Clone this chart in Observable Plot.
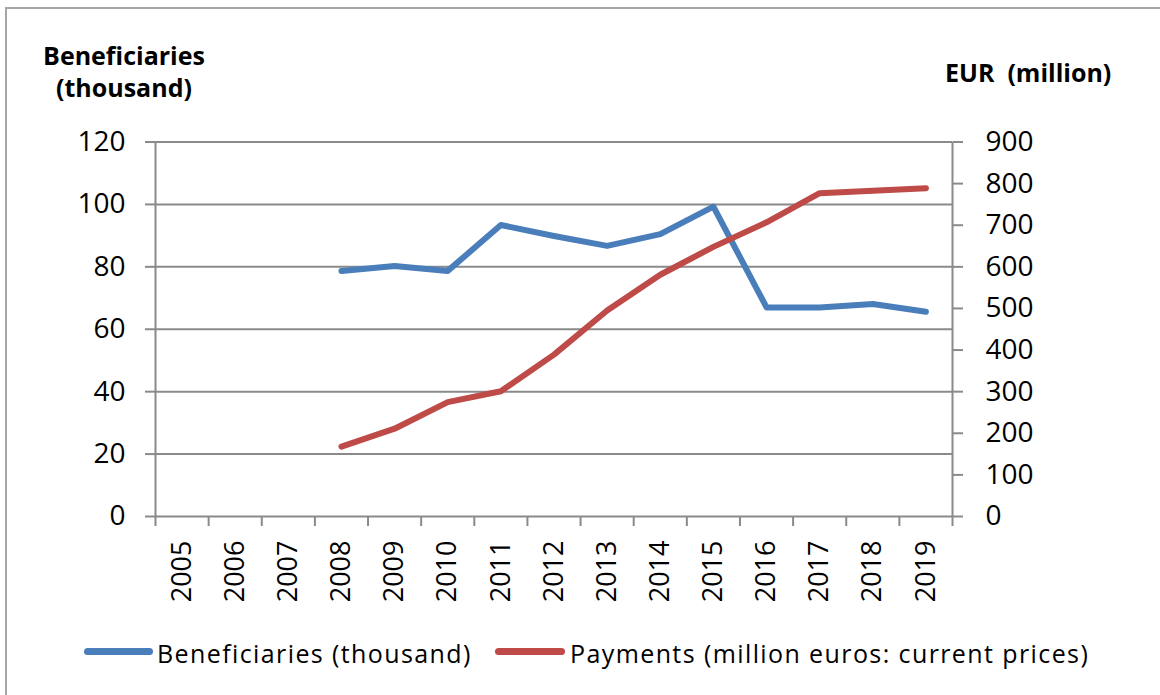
<!DOCTYPE html>
<html><head><meta charset="utf-8">
<script src="https://cdn.jsdelivr.net/npm/d3@7"></script>
<script src="https://cdn.jsdelivr.net/npm/@observablehq/plot@0.6"></script>
<style>
body{margin:0;background:#fff;font-family:"Open Sans",sans-serif;color:#000;}
#wrap{position:relative;width:1160px;height:695px;overflow:hidden;background:#fff;}
#chart{position:absolute;left:0;top:0;}
#frame{position:absolute;left:5px;top:7px;width:1300px;height:900px;border-left:2px solid #a6a6a6;border-top:2px solid #a6a6a6;pointer-events:none;}
.t{position:absolute;font-weight:bold;font-size:25px;line-height:32px;white-space:pre;}
.lg{position:absolute;font-size:25px;line-height:30px;white-space:pre;letter-spacing:1.4px;}
.sw{position:absolute;height:7px;border-radius:4px;}
</style>
</head><body>
<div id="wrap">
  <div id="chart"></div>
  <div id="frame"></div>
  <div class="t" id="tl" style="left:24px;top:39px;width:200px;text-align:center;"></div>
  <div class="t" id="tr" style="left:945px;top:56px;"></div>
  <div class="sw" style="left:84px;top:648px;width:69px;background:#4a7ebb;"></div>
  <div class="lg" id="l1" style="left:157px;top:638px;"></div>
  <div class="sw" style="left:495px;top:648px;width:70px;background:#be4b48;"></div>
  <div class="lg" id="l2" style="left:570px;top:638px;"></div>
</div>
<script>
const years = [2005, 2006, 2007, 2008, 2009, 2010, 2011, 2012, 2013, 2014, 2015, 2016, 2017, 2018, 2019];
const dataYears = [2008, 2009, 2010, 2011, 2012, 2013, 2014, 2015, 2016, 2017, 2018, 2019];
const beneficiaries = [78.7, 80.3, 78.7, 93.4, 89.9, 86.7, 90.5, 99.3, 67.0, 67.0, 68.1, 65.6];
const payments = [168, 211, 275, 301, 389, 495, 581, 648, 707, 777, 783, 789];
const leftTicks = [0, 20, 40, 60, 80, 100, 120];
const rightTicks = [0, 100, 200, 300, 400, 500, 600, 700, 800, 900];
const leftTitle = ["Beneficiaries", "(thousand)"];
const rightTitle = "EUR  (million)";
const seriesNames = ["Beneficiaries (thousand)", "Payments (million euros: current prices)"];

const leftMax = 120, rightMax = 900;
const toLeft = v => v * leftMax / rightMax;

const table = dataYears.map((yr, i) => ({year: yr, ben: beneficiaries[i], pay: payments[i]}));
const bounds = years.map(y => y - 0.5).concat([years[years.length - 1] + 0.5]);

const grey = "#8a8a8a";
const chart = Plot.plot({
  width: 1160,
  height: 695,
  marginLeft: 155,
  marginRight: 208,
  marginTop: 141.5,
  marginBottom: 179,
  style: {fontFamily: "'Open Sans', sans-serif", fontSize: "28px", color: "#000", background: "transparent"},
  x: {type: "linear", domain: [bounds[0], bounds[bounds.length - 1]]},
  y: {domain: [0, leftMax]},
  marks: [
    Plot.ruleY(leftTicks, {stroke: grey, strokeWidth: 2}),
    Plot.ruleX([bounds[0], bounds[bounds.length - 1]], {stroke: grey, strokeWidth: 2}),
    Plot.axisY(leftTicks, {anchor: "left", tickSize: 10, tickPadding: 20, stroke: grey, strokeWidth: 2, fill: "#000", label: null, fontSize: 28}),
    Plot.axisY(rightTicks.map(toLeft), {anchor: "right", tickSize: 10, tickPadding: 23, stroke: grey, strokeWidth: 2, fill: "#000", label: null, fontSize: 28, tickFormat: d => String(Math.round(d * rightMax / leftMax))}),
    Plot.axisX(bounds, {anchor: "bottom", tickSize: 10, text: null, stroke: grey, strokeWidth: 2, label: null}),
    Plot.axisX(years, {anchor: "bottom", tickSize: 0, tickPadding: 24, tickRotate: -90, fill: "#000", label: null, fontSize: 27, tickFormat: d => String(d)}),
    Plot.line(table, {x: "year", y: "ben", stroke: "#4a7ebb", strokeWidth: 6, strokeLinecap: "round", strokeLinejoin: "round"}),
    Plot.line(table, {x: "year", y: d => toLeft(d.pay), stroke: "#be4b48", strokeWidth: 6, strokeLinecap: "round", strokeLinejoin: "round"})
  ]
});
document.getElementById("chart").appendChild(chart);
document.getElementById("tl").textContent = leftTitle.join("\n");
document.getElementById("tr").textContent = rightTitle;
document.getElementById("l1").textContent = seriesNames[0];
document.getElementById("l2").textContent = seriesNames[1];
</script>
</body></html>
